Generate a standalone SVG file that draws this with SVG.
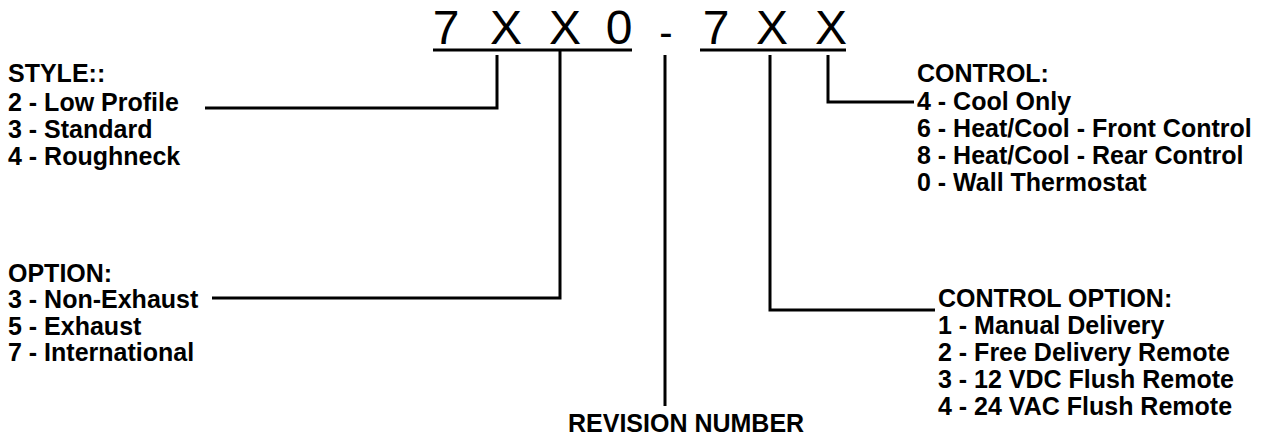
<svg xmlns="http://www.w3.org/2000/svg" width="1285" height="438" viewBox="0 0 1285 438">
<style>
.t{font-family:"Liberation Sans",Arial,sans-serif;font-weight:bold;font-size:25px;fill:#000}
.h{font-family:"Liberation Sans",Arial,sans-serif;font-size:48px;fill:#000;text-anchor:middle}
.d{font-family:"Liberation Sans",Arial,sans-serif;font-size:40px;fill:#000;text-anchor:middle}
.c{fill:none;stroke:#000;stroke-width:3}
</style>
<rect width="1285" height="438" fill="#fff"/>
<g id="code">
<text class="h" x="446" y="44">7</text>
<text class="h" x="506" y="44">X</text>
<text class="h" x="565" y="44">X</text>
<text class="h" x="619" y="44">0</text>
<text class="d" x="666" y="46">-</text>
<text class="h" x="716" y="44">7</text>
<text class="h" x="772" y="44">X</text>
<text class="h" x="831" y="44">X</text>
<path class="c" d="M433,50H632M700,50H846"/>
</g>
<g id="style">
<text class="t" x="8" y="82">STYLE::</text>
<text class="t" x="8" y="111">2 - Low Profile</text>
<text class="t" x="8" y="138">3 - Standard</text>
<text class="t" x="8" y="165">4 - Roughneck</text>
</g>
<g id="option">
<text class="t" x="8" y="282">OPTION:</text>
<text class="t" x="8" y="308">3 - Non-Exhaust</text>
<text class="t" x="8" y="335">5 - Exhaust</text>
<text class="t" x="8" y="361">7 - International</text>
</g>
<g id="control">
<text class="t" x="917" y="82">CONTROL:</text>
<text class="t" x="917" y="110">4 - Cool Only</text>
<text class="t" x="917" y="137">6 - Heat/Cool - Front Control</text>
<text class="t" x="917" y="164">8 - Heat/Cool - Rear Control</text>
<text class="t" x="917" y="191">0 - Wall Thermostat</text>
</g>
<g id="control-option">
<text class="t" x="938" y="307">CONTROL OPTION:</text>
<text class="t" x="938" y="334">1 - Manual Delivery</text>
<text class="t" x="938" y="361">2 - Free Delivery Remote</text>
<text class="t" x="938" y="388">3 - 12 VDC Flush Remote</text>
<text class="t" x="938" y="415">4 - 24 VAC Flush Remote</text>
</g>
<g id="revision">
<text class="t" x="568" y="432">REVISION NUMBER</text>
</g>
<g id="connectors">
<path class="c" d="M497,55V108H205"/>
<path class="c" d="M560,50V298H212"/>
<path class="c" d="M665,55V406"/>
<path class="c" d="M770,55V310H935"/>
<path class="c" d="M828,55V102H914"/>
</g>
</svg>
